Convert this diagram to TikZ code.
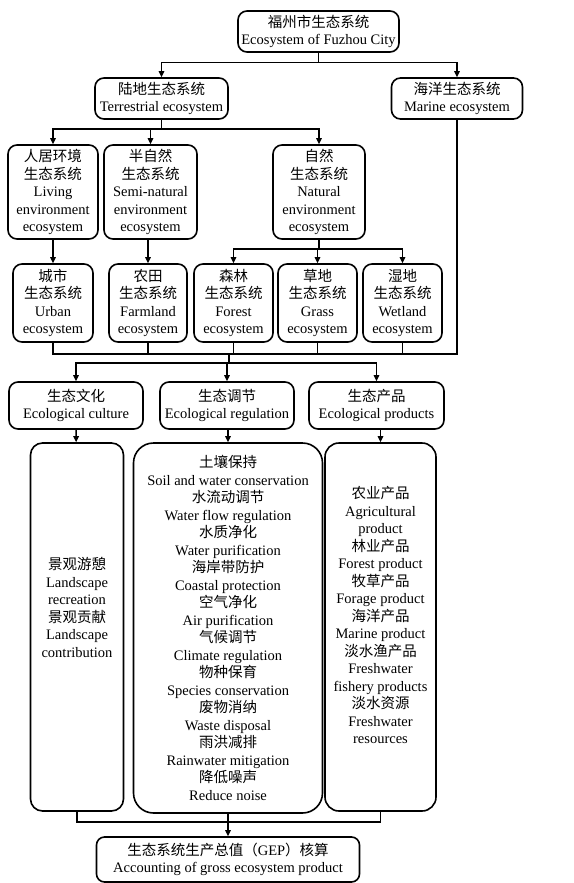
\documentclass[tikz,border=0pt]{standalone}
\usepackage{fontspec}
\setmainfont{Liberation Serif}
\newfontfamily\zhfont{Noto Sans CJK SC}
\newcommand{\zh}[1]{{\zhfont #1}}
\usepackage{tikz}
\usetikzlibrary{arrows.meta,calc}

\begin{document}
\begin{tikzpicture}[x=1pt,y=-1pt,
    every node/.style={font=\fontsize{14.5}{17.5}\selectfont},
    bx/.style={draw,line width=1.6pt,rounded corners=9pt,align=center,inner sep=0pt},
    ar/.style={-{Triangle[length=6pt,width=5.5pt]},line width=1.4pt},
    ln/.style={line width=1.4pt}]
  \useasboundingbox (0,0) rectangle (573,883);
  % level 1 and 2
  \node[bx,minimum width=161pt,minimum height=41pt] (root) at (318.5,31.5)
    {\zh{福州市生态系统}\\Ecosystem of Fuzhou City};
  \node[bx,minimum width=133pt,minimum height=41pt] (terr) at (161.5,98.5)
    {\zh{陆地生态系统}\\Terrestrial ecosystem};
  \node[bx,minimum width=131pt,minimum height=41pt] (marine) at (457,98.5)
    {\zh{海洋生态系统}\\Marine ecosystem};
  % level 3
  \node[bx,minimum width=90pt,minimum height=94pt] (living) at (53,192)
    {\zh{人居环境}\\\zh{生态系统}\\Living\\environment\\ecosystem};
  \node[bx,minimum width=93pt,minimum height=94pt] (semi) at (150.5,192)
    {\zh{半自然}\\\zh{生态系统}\\Semi-natural\\environment\\ecosystem};
  \node[bx,minimum width=92pt,minimum height=94pt] (natural) at (319,192)
    {\zh{自然}\\\zh{生态系统}\\Natural\\environment\\ecosystem};
  % level 4
  \node[bx,minimum width=80pt,minimum height=78pt] (urban) at (53,303)
    {\zh{城市}\\\zh{生态系统}\\Urban\\ecosystem};
  \node[bx,minimum width=78pt,minimum height=78pt] (farm) at (148,303)
    {\zh{农田}\\\zh{生态系统}\\Farmland\\ecosystem};
  \node[bx,minimum width=79pt,minimum height=78pt] (forest) at (233.5,303)
    {\zh{森林}\\\zh{生态系统}\\Forest\\ecosystem};
  \node[bx,minimum width=79pt,minimum height=78pt] (grass) at (317.5,303)
    {\zh{草地}\\\zh{生态系统}\\Grass\\ecosystem};
  \node[bx,minimum width=79pt,minimum height=78pt] (wetland) at (402.5,303)
    {\zh{湿地}\\\zh{生态系统}\\Wetland\\ecosystem};
  % services
  \node[bx,minimum width=134pt,minimum height=47pt] (culture) at (76,405.5)
    {\zh{生态文化}\\Ecological culture};
  \node[bx,minimum width=134pt,minimum height=47pt] (regul) at (227,405.5)
    {\zh{生态调节}\\Ecological regulation};
  \node[bx,minimum width=135pt,minimum height=47pt] (prod) at (376.5,405.5)
    {\zh{生态产品}\\Ecological products};
  \node[bx,rounded corners=12pt,minimum width=93pt,minimum height=368pt] (cultd) at (77,627)
    {\zh{景观游憩}\\Landscape\\recreation\\\zh{景观贡献}\\Landscape\\contribution\\[22pt]};
  \node[bx,rounded corners=20pt,minimum width=189pt,minimum height=370pt] (regd) at (228,628)
    {\zh{土壤保持}\\Soil and water conservation\\\zh{水流动调节}\\Water flow regulation\\
     \zh{水质净化}\\Water purification\\\zh{海岸带防护}\\Coastal protection\\
     \zh{空气净化}\\Air purification\\\zh{气候调节}\\Climate regulation\\
     \zh{物种保育}\\Species conservation\\\zh{废物消纳}\\Waste disposal\\
     \zh{雨洪减排}\\Rainwater mitigation\\\zh{降低噪声}\\Reduce noise};
  \node[bx,rounded corners=14pt,minimum width=111pt,minimum height=368pt] (prodd) at (380.5,627)
    {\zh{农业产品}\\Agricultural\\product\\\zh{林业产品}\\Forest product\\
     \zh{牧草产品}\\Forage product\\\zh{海洋产品}\\Marine product\\
     \zh{淡水渔产品}\\Freshwater\\fishery products\\\zh{淡水资源}\\Freshwater\\resources\\[6pt]};
  \node[bx,rounded corners=8pt,minimum width=263pt,minimum height=45pt] (gep) at (228,859.5)
    {\zh{生态系统生产总值（}GEP\zh{）核算}\\Accounting of gross ecosystem product};
  % connectors
  \draw[ar] (root.south) -- ++(0,10) -| (terr.north);
  \draw[ar] (root.south) -- ++(0,10) -| (marine.north);
  \foreach \n in {living,semi,natural}
    \draw[ar] (terr.south) -- ++(0,9) -| (\n.north);
  \foreach \n in {forest,grass,wetland}
    \draw[ar] (natural.south) -- ++(0,9) -| (\n.north);
  \draw[ar] (living) -- (urban);
  \draw[ar] (semi.south -| farm.north) -- (farm.north);
  \draw[ln] (urban.south) -- ++(0,11) -| (marine.south);
  \foreach \n in {farm,forest,grass,wetland}
    \draw[ln] (\n.south) -- ++(0,11);
  \coordinate (hub) at (229,353);
  \foreach \n in {culture,regul,prod}
    \draw[ar] (hub) -- ++(0,10) -| (\n.north);
  \draw[ar] (culture) -- (cultd);
  \draw[ar] (regul.south -| regd.north) -- (regd.north);
  \draw[ar] (prod.south -| prodd.north) -- (prodd.north);
  \draw[ln] (cultd.south) -- ++(0,10) -| (prodd.south);
  \draw[ar] (regd) -- (gep);
\end{tikzpicture}
\end{document}
